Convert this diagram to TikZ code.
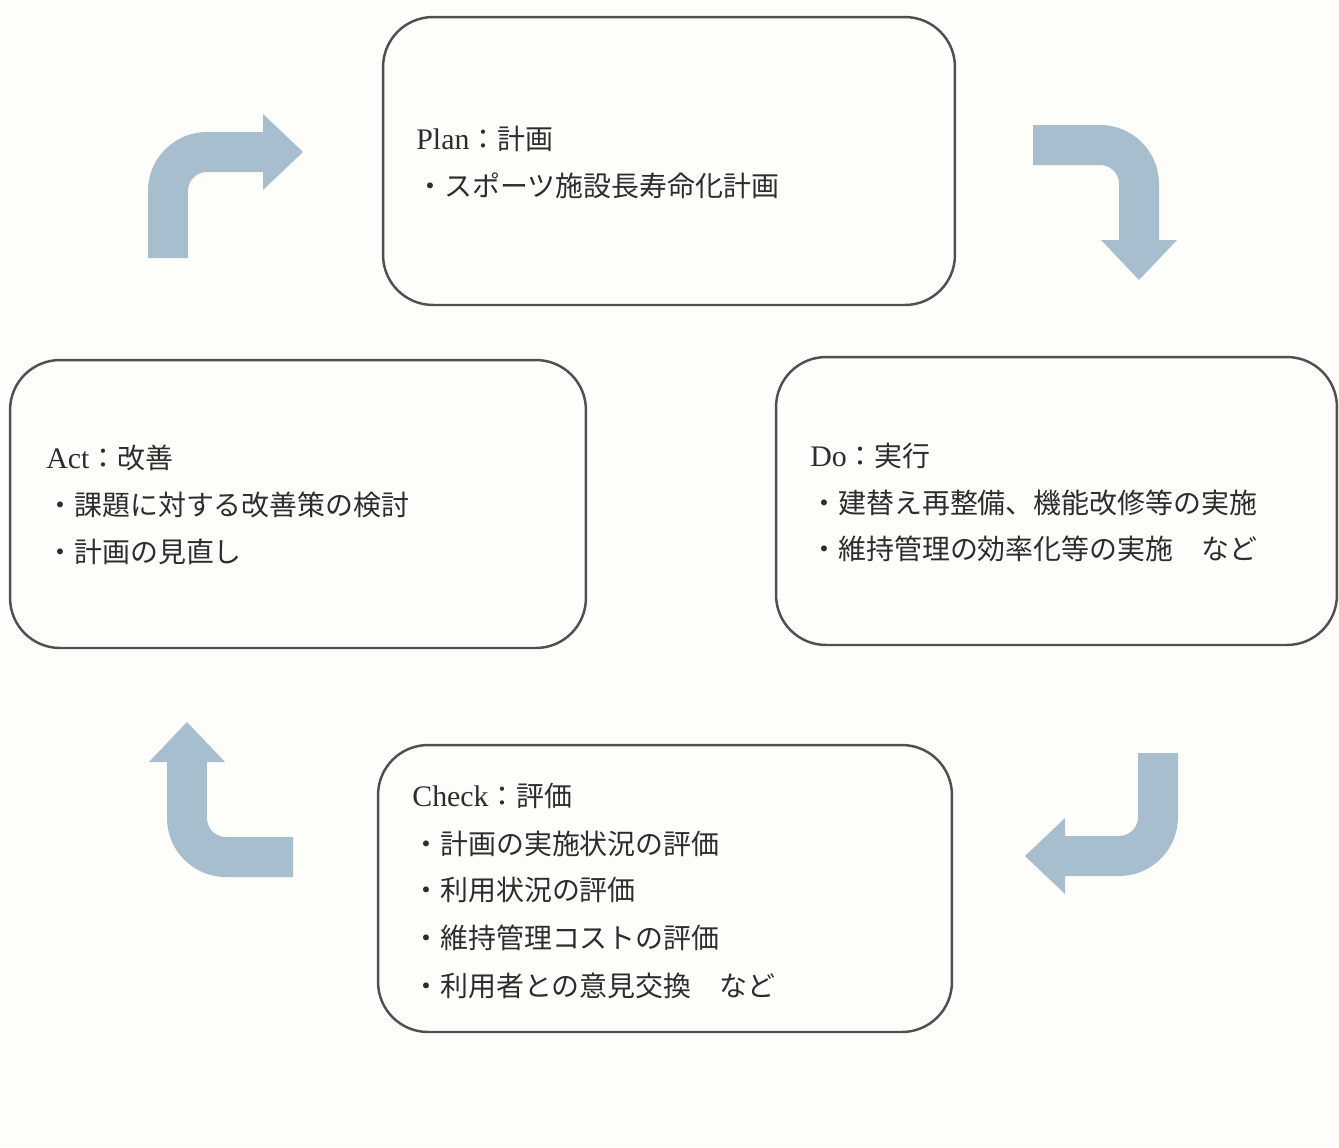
\documentclass[tikz,border=0pt]{standalone}
\usepackage{fontspec}
\setmainfont{Liberation Serif}
\newfontfamily\jp{Noto Sans CJK JP}
\usetikzlibrary{arrows.meta}
\definecolor{bgcol}{RGB}{253,253,250}
\definecolor{boxline}{RGB}{80,80,80}
\definecolor{txt}{RGB}{45,45,45}
\definecolor{arrowblue}{RGB}{167,190,207}
\newcommand{\lat}[1]{{\fontsize{17pt}{20pt}\selectfont #1}}
\tikzset{
  phase/.style={draw=boxline, line width=1.4pt, rounded corners=1cm, minimum height=5.76cm, inner sep=0pt, outer sep=0pt},
  txtline/.style={anchor=base west, inner sep=0pt, text=txt, font=\fontsize{15.9pt}{20pt}\selectfont},
  cyc/.style={draw=arrowblue, line width=0.8cm, rounded corners=0.78cm, -{Triangle[length=0.8cm,width=1.52cm,line width=0pt]}}
}
\begin{document}
\begin{tikzpicture}[x=0.02cm,y=-0.02cm]
\fill[bgcol] (0,0) rectangle (1339,1147);
\useasboundingbox (0,0) rectangle (1339,1147);

% phase boxes
\node[phase, minimum width=11.44cm] (plan) at (669,161) {};
\node[phase, minimum width=11.52cm] (act) at (298,504) {};
\node[phase, minimum width=11.22cm] (do) at (1056.5,501) {};
\node[phase, minimum width=11.48cm, minimum height=5.74cm] (check) at (665,888.5) {};

% texts
\node[txtline] (planT) at (416,149) {\lat{Plan}{\jp ：計画}};
\node[txtline] (plan1) at (416,196) {\jp ・スポーツ施設長寿命化計画};

\node[txtline] (actT) at (46,468) {\lat{Act}{\jp ：改善}};
\node[txtline] (act1) at (46,515) {\jp ・課題に対する改善策の検討};
\node[txtline] (act2) at (46,562) {\jp ・計画の見直し};

\node[txtline] (doT) at (810,466) {\lat{Do}{\jp ：実行}};
\node[txtline] (do1) at (810,513) {\jp ・建替え再整備、機能改修等の実施};
\node[txtline] (do2) at (810,559) {\jp ・維持管理の効率化等の実施　など};

\node[txtline] (checkT) at (412,806) {\lat{Check}{\jp ：評価}};
\node[txtline] (check1) at (412,854) {\jp ・計画の実施状況の評価};
\node[txtline] (check2) at (412,900) {\jp ・利用状況の評価};
\node[txtline] (check3) at (412,948) {\jp ・維持管理コストの評価};
\node[txtline] (check4) at (412,996) {\jp ・利用者との意見交換　など};

% cycle arrows
\coordinate (a1s) at (168,258);
\coordinate (a1e) at (303,152);
\draw[cyc] (a1s) |- (a1e);
\coordinate (a2s) at (1033,145);
\coordinate (a2e) at (1139,280);
\draw[cyc] (a2s) -| (a2e);
\coordinate (a3s) at (1158,753);
\coordinate (a3e) at (1025,856);
\draw[cyc] (a3s) |- (a3e);
\coordinate (a4s) at (293,857);
\coordinate (a4e) at (187,722);
\draw[cyc] (a4s) -| (a4e);
\end{tikzpicture}
\end{document}
